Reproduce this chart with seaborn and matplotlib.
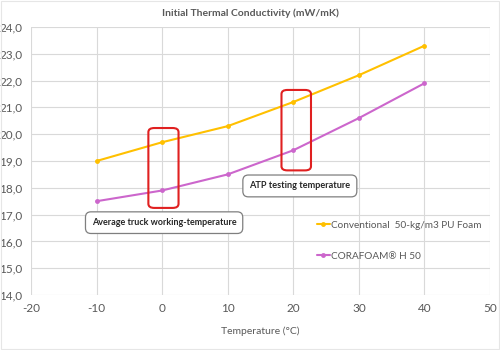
import matplotlib
matplotlib.use("Agg")
import matplotlib.pyplot as plt
import seaborn as sns
import pandas as pd
from matplotlib.patches import FancyBboxPatch, Rectangle

# Data
temperatures = [-10, 0, 10, 20, 30, 40]
conventional = [19.0, 19.7, 20.3, 21.2, 22.2, 23.3]
corafoam = [17.5, 17.9, 18.5, 19.4, 20.6, 21.9]
series_names = ["Conventional  50-kg/m3 PU Foam", "CORAFOAM® H 50"]
x_ticks = [-20, -10, 0, 10, 20, 30, 40, 50]
y_ticks = [14, 15, 16, 17, 18, 19, 20, 21, 22, 23, 24]
title = "Initial Thermal Conductivity (mW/mK)"
x_label = "Temperature (°C)"
notes = ["Average truck working-temperature", "ATP testing temperature"]

df = pd.DataFrame({
    "Temperature": temperatures * 2,
    "Value": conventional + corafoam,
    "Series": [series_names[0]] * len(temperatures) + [series_names[1]] * len(temperatures),
})

sns.set_theme(style="white")
plt.rcParams['font.family'] = ['Lato', 'DejaVu Sans']
text_color = "#595959"

fig = plt.figure(figsize=(5, 3.5), dpi=100)
ax = fig.add_axes([0.062, 0.157, 0.918, 0.766])

palette = {series_names[0]: "#FFC000", series_names[1]: "#CC66CC"}
sns.lineplot(data=df, x="Temperature", y="Value", hue="Series", palette=palette,
             marker="o", markersize=3.5, markeredgewidth=0, linewidth=1.5, ax=ax,
             legend=True)

ax.set_xlim(-20, 50)
ax.set_ylim(14, 24)
ax.set_xticks(x_ticks)
ax.set_yticks(y_ticks)
ax.set_yticklabels([f"{v:.1f}".replace(".", ",") for v in y_ticks])
ax.set_xticklabels([str(v) for v in x_ticks])
ax.tick_params(axis="both", labelsize=8.5, colors=text_color, length=0, pad=6)
ax.grid(True, color="#D9D9D9", linewidth=0.8)
for s in ax.spines.values():
    s.set_visible(False)
ax.set_axisbelow(True)

ax.set_xlabel(x_label, fontsize=7.5, color=text_color, labelpad=9)
ax.set_ylabel("")
fig.text(0.5, 0.962, title, ha="center", va="center", fontsize=7.5,
         fontweight="bold", color=text_color)

# red highlight rectangles (x0, y0, width, height in data units)
highlights = [(-2.1, 17.25, 4.6, 2.98), (18.2, 18.65, 4.5, 3.0)]
for (x0, y0, w, h) in highlights:
    p = FancyBboxPatch((x0, y0), w, h, boxstyle="round,pad=0,rounding_size=0.9",
                       mutation_aspect=0.17, linewidth=1.5, edgecolor="#E02020",
                       facecolor="none", zorder=5)
    ax.add_patch(p)

bbox = dict(boxstyle="round,pad=0.7,rounding_size=0.6", facecolor="white",
            edgecolor="#7F7F7F", linewidth=0.9)
ax.text(0.3, 16.7, notes[0], ha="center", va="center", fontsize=6.5,
        fontweight="bold", color="#262626", bbox=bbox, zorder=6)
ax.text(21.0, 18.07, notes[1], ha="center", va="center", fontsize=6.6,
        fontweight="bold", color="#262626", bbox=bbox, zorder=6)

leg = ax.legend(loc="upper left", bbox_to_anchor=(0.603, 0.31), frameon=False,
                fontsize=7.2, handlelength=1.3, handletextpad=0.1,
                labelspacing=2.2, labelcolor=text_color)

# faint chart border
fig.patches.append(Rectangle((0.002, 0.004), 0.996, 0.992, transform=fig.transFigure,
                             fill=False, edgecolor="#E6E6E6", linewidth=0.8))

fig.savefig("out.png", dpi=100)
